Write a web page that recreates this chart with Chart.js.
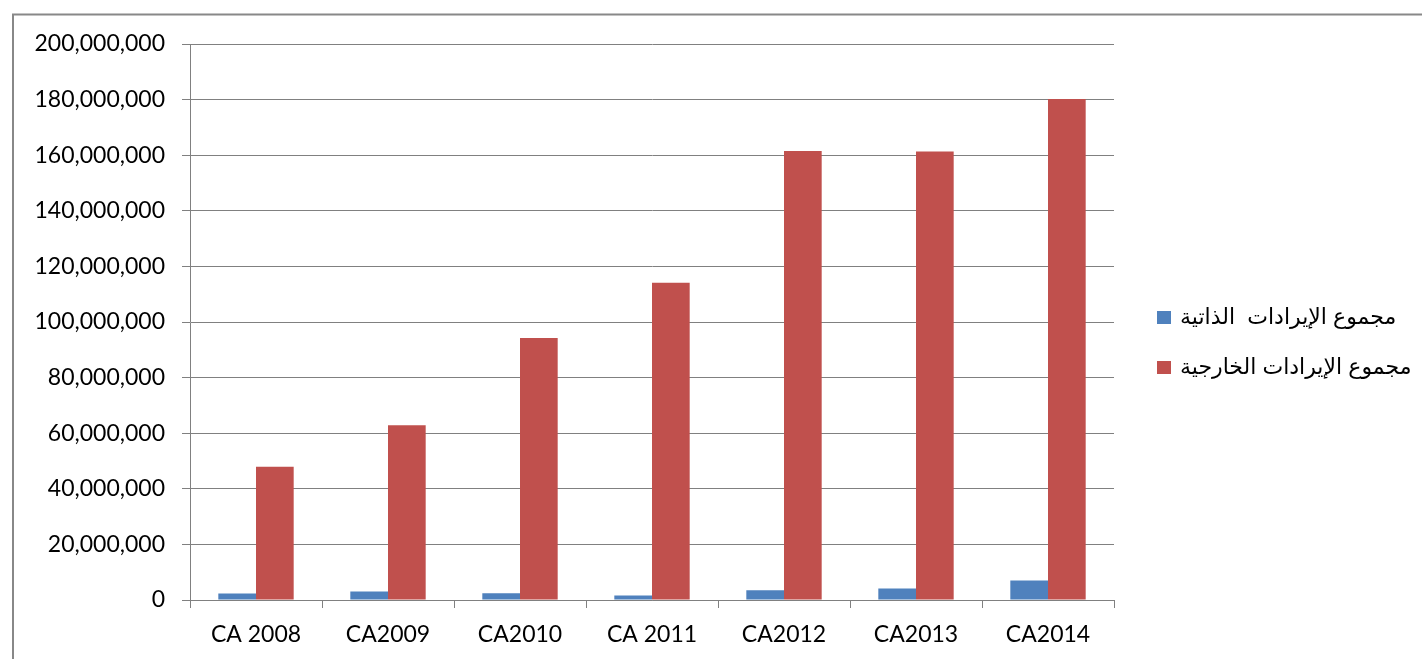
<!DOCTYPE html>
<html>
<head>
<meta charset="utf-8">
<script src="https://cdn.jsdelivr.net/npm/chart.js@4/dist/chart.umd.min.js"></script>
<style>
  html, body { margin: 0; padding: 0; background: #ffffff; }
  #wrap { width: 1422px; height: 659px; position: relative; }
</style>
</head>
<body>
<div id="wrap"><canvas id="chart" width="1422" height="659"></canvas></div>
<script>
// Categories (fiscal accounts) and revenue series
const categories = ['CA 2008', 'CA2009', 'CA2010', 'CA 2011', 'CA2012', 'CA2013', 'CA2014'];
const seriesNames = ['مجموع الإيرادات  الذاتية', 'مجموع الإيرادات الخارجية'];
const ownRevenue = [2300000, 3100000, 2400000, 1600000, 3500000, 4100000, 7000000];
const externalRevenue = [47900000, 62900000, 94200000, 114100000, 161500000, 161300000, 180200000];
const yTicks = [0, 20000000, 40000000, 60000000, 80000000, 100000000, 120000000, 140000000, 160000000, 180000000, 200000000];

const seriesColors = ['#4F81BD', '#C0504D'];
const gridColor = '#808080';
const labelFont = { family: 'Lato, "Open Sans", sans-serif', size: 23 };

// Outer frame of the chart object
const framePlugin = {
  id: 'frame',
  beforeDraw(chart) {
    const ctx = chart.ctx;
    ctx.save();
    ctx.strokeStyle = '#888888';
    ctx.lineWidth = 2;
    ctx.beginPath();
    ctx.moveTo(13, chart.height);
    ctx.lineTo(13, 14.5);
    ctx.lineTo(chart.width, 14.5);
    ctx.stroke();
    ctx.restore();
  }
};

// Legend drawn at the right of the plot
const sideLegend = {
  id: 'sideLegend',
  afterDraw(chart) {
    const ctx = chart.ctx;
    ctx.save();
    ctx.font = '22px Arial, "Liberation Sans", "DejaVu Sans", sans-serif';
    ctx.textBaseline = 'middle';
    ctx.textAlign = 'left';
    chart.data.datasets.forEach((ds, i) => {
      const cy = 317.5 + i * 50;
      ctx.fillStyle = ds.backgroundColor;
      ctx.fillRect(1157, cy - 6.5, 14, 13);
      ctx.fillStyle = '#000000';
      ctx.fillText(ds.label, 1180, cy);
    });
    ctx.restore();
  }
};

new Chart(document.getElementById('chart'), {
  type: 'bar',
  data: {
    labels: categories,
    datasets: [
      { label: seriesNames[0], data: ownRevenue, backgroundColor: seriesColors[0] },
      { label: seriesNames[1], data: externalRevenue, backgroundColor: seriesColors[1] }
    ]
  },
  options: {
    responsive: false,
    animation: false,
    devicePixelRatio: 1,
    layout: { padding: { top: 44, right: 308, bottom: 0, left: 0 } },
    datasets: { bar: { categoryPercentage: 0.571, barPercentage: 1.0 } },
    plugins: {
      legend: { display: false },
      tooltip: { enabled: false },
      title: { display: false }
    },
    scales: {
      x: {
        grid: { offset: true, drawOnChartArea: false, drawTicks: true, tickLength: 8, color: gridColor },
        border: { color: gridColor, width: 1 },
        ticks: { color: '#000000', font: labelFont, padding: 13, maxRotation: 0 },
        afterFit(scale) { scale.height = 59; }
      },
      y: {
        min: 0,
        max: 200000000,
        afterBuildTicks(scale) { scale.ticks = yTicks.map(v => ({ value: v })); },
        grid: { color: gridColor, tickLength: 8, lineWidth: 1 },
        border: { color: gridColor, width: 1 },
        ticks: {
          color: '#000000',
          font: labelFont,
          padding: 17,
          callback: v => Number(v).toLocaleString('en-US')
        },
        afterFit(scale) { scale.width = 190; }
      }
    }
  },
  plugins: [framePlugin, sideLegend]
});
</script>
</body>
</html>
